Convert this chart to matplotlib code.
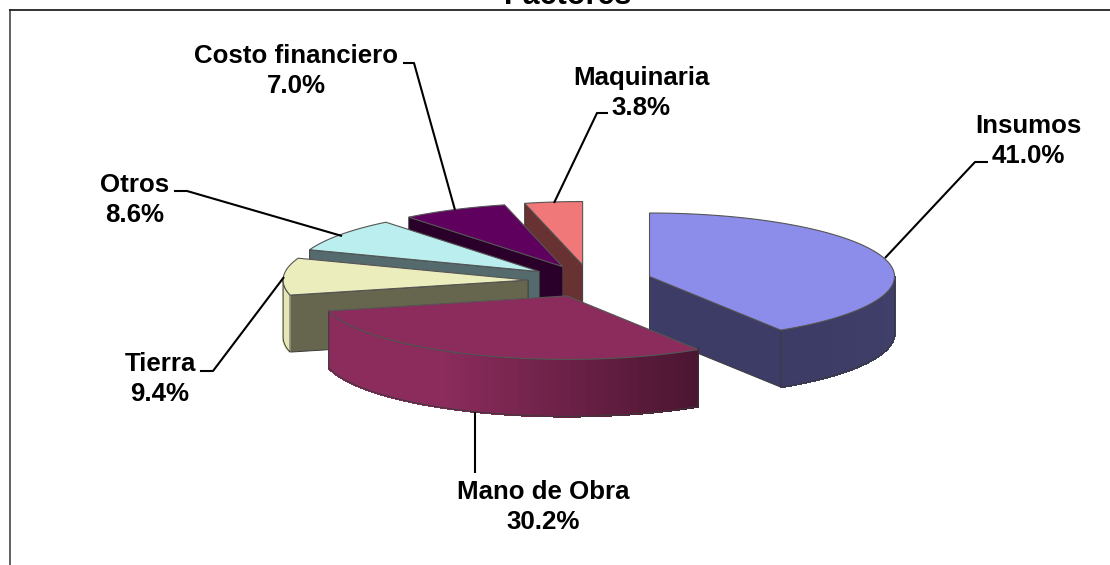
""" Exploded 3D style pie chart of cost factors """

import numpy as np
import matplotlib
import matplotlib.pyplot as plt
from matplotlib.colors import to_rgb
from matplotlib.patches import Polygon

matplotlib.use("Agg")

# data, clockwise from 12 o'clock
categories = ["Insumos", "Mano de Obra", "Tierra", "Otros", "Costo financiero", "Maquinaria"]
shares = [41.0, 30.2, 9.4, 8.6, 7.0, 3.8]

# styles
top_colors = ["#8c8ceb", "#8b2c5c", "#ecedbd", "#bbeeee", "#5f005f", "#f07878"]
cut_colors = ["#3c3c66", "#3c1226", "#66664f", "#546a6c", "#2a002a", "#693232"]
rim_left = ["#3c3c66", "#8b2c5c", "#e6e6b8", "#546a6c", "#2a002a", "#693232"]
rim_right = ["#3f3f6a", "#4a1530", "#e6e6b8", "#546a6c", "#2a002a", "#693232"]
draw_order = [5, 4, 3, 2, 0, 1]

# layout in pixels
CX, CY = 590, 281
RX, RY = 245, 63.5
DEPTH = 57
EXPLODE = 0.253

label_pos = [(1028, 141), (543, 507), (160, 379), (135, 200), (296, 71), (641, 93)]
leaders = [
    [(988, 162), (975, 162), (885, 258)],
    [(475, 412), (475, 473)],
    [(200, 371), (213, 371), (284, 277)],
    [(174, 191), (187, 191), (342, 236)],
    [(403, 63), (414, 63), (455, 210)],
    [(608, 113), (597, 113), (554, 203)],
]


def rim_points(ax_x, ax_y, theta):
    """ Points on the rim for clockwise angles measured from the top """
    return np.column_stack((ax_x + RX * np.sin(theta), ax_y - RY * np.cos(theta)))


def draw_slice(ax, i, start, end, z):
    """ Draw walls and top face of one slice """
    mid = (start + end) / 2
    apex_x = CX + EXPLODE * RX * np.sin(mid)
    apex_y = CY - EXPLODE * RY * np.cos(mid)
    apex = np.array([apex_x, apex_y])
    down = np.array([0, DEPTH])
    edge = "#3a3a3a"

    # cut faces that look towards the viewer
    for angle, visible in ((start, np.sin(start) < -1e-6), (end, np.sin(end) > 1e-6)):
        if visible:
            p = rim_points(apex_x, apex_y, np.array([angle]))[0]
            ax.add_patch(Polygon([apex, p, p + down, apex + down], closed=True,
                                 facecolor=cut_colors[i], edgecolor=edge,
                                 linewidth=0.7, zorder=z))

    # outer wall, only the front half can be seen
    lo, hi = max(start, np.pi / 2), min(end, 3 * np.pi / 2)
    if hi > lo:
        theta = np.linspace(lo, hi, 90)
        pts = rim_points(apex_x, apex_y, theta)
        left = np.array(to_rgb(rim_left[i]))
        right = np.array(to_rgb(rim_right[i]))
        span = max(pts[:, 0].max() - pts[:, 0].min(), 1)
        # shading stays flat on the left part, then runs into the dark end
        for a, b in zip(pts[:-1], pts[1:]):
            t = (min(a[0], b[0]) - pts[:, 0].min()) / span
            col = left + (right - left) * np.clip((t - 0.3) / 0.7, 0, 1)
            ax.add_patch(Polygon([a, b, b + down, a + down], closed=True, facecolor=col,
                                 edgecolor=col, linewidth=1.0, antialiased=False, zorder=z))
        ax.add_patch(Polygon(np.vstack((pts, (pts + down)[::-1])), closed=True, fill=False,
                             edgecolor=edge, linewidth=0.7, zorder=z))

    # top face
    theta = np.linspace(start, end, 120)
    top = np.vstack(([apex], rim_points(apex_x, apex_y, theta)))
    ax.add_patch(Polygon(top, closed=True, facecolor=top_colors[i], edgecolor="#555555",
                         linewidth=0.8, zorder=z))


def main():
    """ Build the chart and save it """
    plt.rcParams["font.family"] = ["Liberation Sans", "DejaVu Sans"]
    fig = plt.figure(figsize=(11.1, 5.65), dpi=100)
    ax = fig.add_axes([0, 0, 1, 1])
    ax.set_xlim(0, 1110)
    ax.set_ylim(565, 0)
    ax.axis("off")

    # chart frame, open at the bottom and right
    ax.plot([10, 10], [565, 9.5], color="#555555", linewidth=1.3, zorder=1)
    ax.plot([10, 1110], [9.5, 9.5], color="#222222", linewidth=1.3, zorder=1)

    ax.text(568, 3.5, "Factores", fontsize=22, fontweight="bold", ha="center", va="baseline")

    edges = np.concatenate(([0], np.cumsum(shares))) / np.sum(shares) * 2 * np.pi
    for z, i in enumerate(draw_order):
        draw_slice(ax, i, edges[i], edges[i + 1], 3 + z)

    for line in leaders:
        xs, ys = zip(*line)
        ax.plot(xs, ys, color="black", linewidth=1.5, zorder=20, solid_capstyle="butt")

    for name, share, (x, y) in zip(categories, shares, label_pos):
        ax.text(x, y, f"{name}\n{share:.1f}%", fontsize=18.6, fontweight="bold",
                ha="center", va="center", linespacing=1.3, zorder=21)

    fig.savefig("out.png", dpi=100)
    plt.close(fig)


main()
